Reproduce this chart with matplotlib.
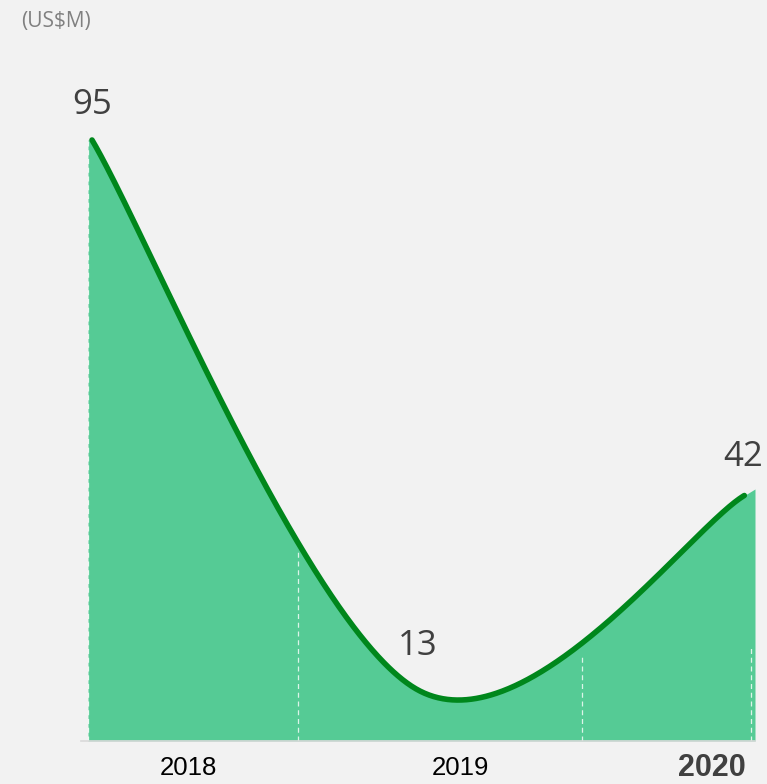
import numpy as np
import matplotlib
matplotlib.use("Agg")
import matplotlib.pyplot as plt

# ---- data ----
years = ["2018", "2019", "2020"]
values = [95, 13, 42]
line_pos = [0.006, 0.4948, 0.984]     # position of each point along the axis (0..1)
label_pos = [0.15, 0.558, 0.935]
divider_pos = [0.0, 0.315, 0.741, 0.994]
divider_top = [95, 34.0, 18.2, 19.6]
unit = "(US$M)"

BG = "#f2f2f2"
FILL = "#55cb95"
LINE = "#00871c"


def excel_smooth(xs, ys, n=300):
    P = np.column_stack([xs, ys]).astype(float)
    m = len(P)
    out = []
    for i in range(m - 1):
        p0 = P[i - 1] if i > 0 else P[i]
        p1, p2 = P[i], P[i + 1]
        p3 = P[i + 2] if i + 2 < m else P[i + 1]
        c1 = p1 + (p2 - p0) / 6.0
        c2 = p2 - (p3 - p1) / 6.0
        t = np.linspace(0, 1, n)[:, None]
        seg = (1 - t) ** 3 * p1 + 3 * (1 - t) ** 2 * t * c1 + 3 * (1 - t) * t ** 2 * c2 + t ** 3 * p2
        out.append(seg if i == 0 else seg[1:])
    s = np.vstack(out)
    return s[:, 0], s[:, 1]


fig = plt.figure(figsize=(7.67, 7.84), dpi=100, facecolor=BG)
ax = fig.add_axes([88 / 767, 1 - 741 / 784, 667 / 767, 641 / 784], facecolor=BG)
ax.set_xlim(0, 1)
ymin, ymax = 5.40, 100.96
ax.set_ylim(ymin, ymax)

lx, ly = excel_smooth(line_pos, values)
# area: same curve, extended to the edges of the plot
slope_end = (ly[-1] - ly[-3]) / (lx[-1] - lx[-3])
ax_x = np.concatenate([[0.0], lx, [1.0]])
ax_y = np.concatenate([[ly[0]], ly, [ly[-1] + slope_end * (1.0 - lx[-1])]])
ax.fill_between(ax_x, ymin, ax_y, color=FILL, lw=0, zorder=1)

ax.plot(lx, ly, color=LINE, lw=4.0, solid_capstyle="round", zorder=3)

for xp, top in zip(divider_pos, divider_top):
    ax.plot([xp, xp], [ymin, top], color="white", lw=0.9, ls=(0, (4, 3)), alpha=0.8, zorder=2)

ax.axhline(ymin, xmin=-0.01, xmax=1.0, color="#d9d9d9", lw=1.2, zorder=2, clip_on=False)

offsets = [(0, 35), (0, 44), (-1, 38)]
for xp, v, off in zip(line_pos, values, offsets):
    ax.annotate(str(v), (xp, v), xytext=off, textcoords="offset pixels",
                ha="center", va="center", fontsize=25, color="#404040",
                family="Open Sans", zorder=4)

for i, (xp, yr) in enumerate(zip(label_pos, years)):
    bold = i == len(years) - 1
    ax.text(xp, -0.042, yr, transform=ax.get_xaxis_transform(),
            ha="center", va="center", family="Liberation Sans",
            fontsize=22 if bold else 18.5, fontweight="bold" if bold else "normal",
            color="#404040" if bold else "black")

fig.text(21 / 767, 1 - 22 / 784, unit, ha="left", va="center", fontsize=15,
         color="#808080", family="Open Sans")

for s in ax.spines.values():
    s.set_visible(False)
ax.set_xticks([])
ax.set_yticks([])

fig.savefig("out.png", dpi=100, facecolor=BG)
